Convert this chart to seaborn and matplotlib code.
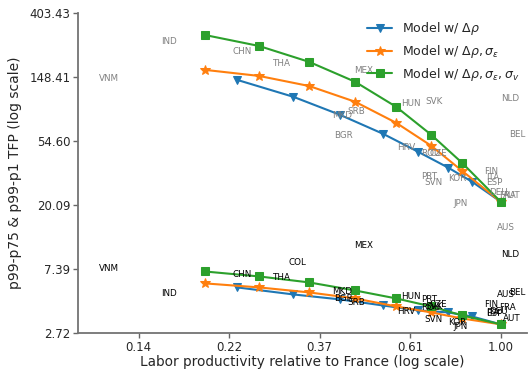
import numpy as np
import pandas as pd
import matplotlib
matplotlib.use("Agg")
import matplotlib.pyplot as plt
import seaborn as sns
from matplotlib.ticker import FixedLocator, FixedFormatter, NullLocator

# ---- model series ----
x_blue = [0.233, 0.318, 0.411, 0.522, 0.633, 0.748, 0.853, 1.0]
blue_p99p1 = [142, 109, 82.4, 61.2, 46.3, 36.1, 29.0, 21.2]
blue_p99p75 = [5.57, 4.99, 4.62, 4.20, 3.89, 3.77, 3.54, 3.13]

x_orange = [0.195, 0.263, 0.347, 0.447, 0.561, 0.681, 0.807, 1.0]
orange_p99p1 = [166, 151, 129, 101, 72.7, 50.8, 34.4, 21.2]
orange_p99p75 = [5.93, 5.57, 5.15, 4.69, 4.14, 3.77, 3.43, 3.13]

x_green = [0.195, 0.263, 0.347, 0.447, 0.561, 0.681, 0.807, 1.0]
green_p99p1 = [286, 241, 188, 138, 93.3, 60.3, 39.0, 21.2]
green_p99p75 = [7.14, 6.61, 6.02, 5.31, 4.69, 4.14, 3.60, 3.13]

series_labels = [r"Model w/ $\Delta\rho$",
                 r"Model w/ $\Delta\rho, \sigma_\epsilon$",
                 r"Model w/ $\Delta\rho, \sigma_\epsilon, \sigma_v$"]

# ---- country data (upper value None = outside the plotted range) ----
countries = ["VNM", "IND", "CHN", "THA", "COL", "MEX", "MKD", "BGR", "SRB", "HUN",
             "SVK", "HRV", "ROU", "CZE", "PRT", "SVN", "KOR", "JPN", "FIN", "ITA",
             "ESP", "DEU", "FRA", "AUT", "AUS", "BEL", "NLD"]
country_x = [0.115, 0.160, 0.240, 0.297, 0.326, 0.470, 0.416, 0.419, 0.450, 0.610,
             0.692, 0.593, 0.680, 0.708, 0.675, 0.688, 0.786, 0.803, 0.948, 0.958,
             0.964, 0.985, 1.04, 1.064, 1.03, 1.095, 1.053]
country_p99p1 = [144.4, 256.6, 219.8, 182.3, None, 163.5, 81.1, 59.4, 86.3, 97.8,
                 100.9, 49.3, 44.9, 44.9, 31.4, 28.6, 30.4, 20.6, 33.9, 30.9,
                 28.6, 24.4, 23.3, 23.3, 14.2, 60.3, 105.6]
country_p99p75 = [7.48, 5.07, 6.82, 6.50, 8.22, 10.71, 5.23, 4.69, 4.41, 4.84,
                  4.14, 3.83, 4.08, 4.27, 4.62, 3.38, 3.23, 3.03, 4.27, 3.77,
                  3.70, 3.80, 4.08, 3.43, 4.99, 5.15, 9.31]

x_ticks = list(np.exp([-2.0, -1.5, -1.0, -0.5, 0.0]))
y_ticks = list(np.exp([1.0, 2.0, 3.0, 4.0, 5.0, 6.0]))

sns.set_style("ticks")
plt.rcParams["font.family"] = ["DejaVu Sans"]

fig = plt.figure(figsize=(5.28, 3.70), dpi=100)
ax = fig.add_axes([0.148, 0.099, 0.85, 0.866])

styles = [("tab:blue", "v", x_blue, blue_p99p1, blue_p99p75, 6),
          ("tab:orange", "*", x_orange, orange_p99p1, orange_p99p75, 7),
          ("tab:green", "s", x_green, green_p99p1, green_p99p75, 6)]

for (color, marker, xs, up, lo, ms), lab in zip(styles, series_labels):
    df_up = pd.DataFrame({"x": xs, "y": up})
    df_lo = pd.DataFrame({"x": xs, "y": lo})
    sns.lineplot(data=df_up, x="x", y="y", ax=ax, color=color, marker=marker,
                 markersize=ms, markeredgecolor=color, linewidth=1.5,
                 sort=False, label=lab)
    sns.lineplot(data=df_lo, x="x", y="y", ax=ax, color=color, marker=marker,
                 markersize=ms, markeredgecolor=color, linewidth=1.5,
                 sort=False, label="_nolegend_")

ax.set_xscale("log")
ax.set_yscale("log")
ax.set_xlim(np.exp(-2.335), np.exp(0.145))
ax.set_ylim(np.exp(1.0), np.exp(6.0))

for c, cx, cu, cl in zip(countries, country_x, country_p99p1, country_p99p75):
    if cu is not None:
        ax.text(cx, cu, c, fontsize=6.3, color="0.5", ha="center", va="center")
    ax.text(cx, cl, c, fontsize=6.3, color="black", ha="center", va="center")

ax.xaxis.set_major_locator(FixedLocator(x_ticks))
ax.xaxis.set_major_formatter(FixedFormatter([f"{v:.2f}" for v in x_ticks]))
ax.xaxis.set_minor_locator(NullLocator())
ax.yaxis.set_major_locator(FixedLocator(y_ticks))
ax.yaxis.set_major_formatter(FixedFormatter([f"{v:.2f}" for v in y_ticks]))
ax.yaxis.set_minor_locator(NullLocator())

ax.tick_params(axis="both", labelsize=8.5, color="0.4", width=1.0, length=3.5, pad=2)
sns.despine(ax=ax)
for s in ["left", "bottom"]:
    ax.spines[s].set_color("0.45")
    ax.spines[s].set_linewidth(1.3)

ax.set_xlabel("Labor productivity relative to France (log scale)", fontsize=9.8, labelpad=1)
ax.set_ylabel("p99-p75 & p99-p1 TFP (log scale)", fontsize=10, labelpad=5)

ax.legend(loc="upper right", frameon=False, fontsize=9, borderaxespad=0.2,
          labelspacing=0.45, handlelength=2.0, bbox_to_anchor=(1.0, 1.0))

fig.savefig("out.png", dpi=100)
